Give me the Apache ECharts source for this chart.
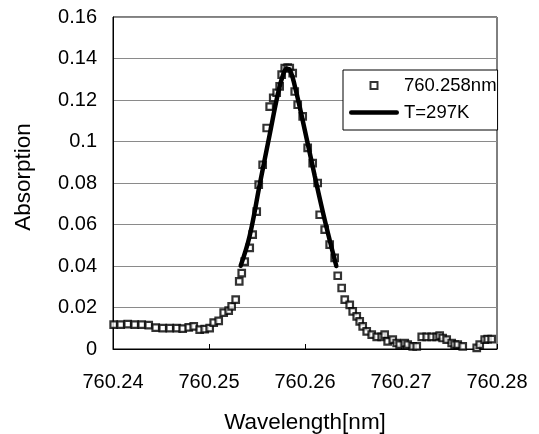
<!DOCTYPE html>
<html>
<head>
<meta charset="utf-8">
<script src="https://cdn.jsdelivr.net/npm/echarts@6/dist/echarts.min.js"></script>
<style>html,body{margin:0;padding:0;background:#fff}#c{width:539px;height:434px}</style>
</head>
<body>
<div id="c"></div>
<script>
// Measured data (wavelength in nm, absorption)
const measX = [760.24007,760.24080,760.24153,760.24226,760.24299,760.24372,760.24445,760.24518,760.24591,760.24664,
760.24726,760.24789,760.24841,760.24903,760.24955,760.25007,760.25049,760.25101,760.25153,760.25205,
760.25236,760.25278,760.25315,760.25341,760.25372,760.25424,760.25455,760.25497,760.25518,760.25559,
760.25601,760.25632,760.25669,760.25705,760.25736,760.25757,760.25789,760.25820,760.25841,760.25872,
760.25893,760.25924,760.25976,760.26028,760.26080,760.26132,760.26153,760.26205,760.26257,760.26309,
760.26341,760.26382,760.26414,760.26466,760.26497,760.26539,760.26570,760.26601,760.26643,760.26695,
760.26747,760.26799,760.26830,760.26861,760.26914,760.26955,760.26986,760.27039,760.27070,760.27122,
760.27164,760.27216,760.27268,760.27320,760.27372,760.27403,760.27434,760.27476,760.27528,760.27559,
760.27591,760.27643,760.27789,760.27820,760.27872,760.27903,760.27945];
const measY = [0.0117,0.0117,0.0120,0.0117,0.0117,0.0115,0.0103,0.0101,0.0101,0.0101,
0.0098,0.0104,0.0109,0.0093,0.0096,0.0101,0.0127,0.0136,0.0175,0.0185,
0.0205,0.0238,0.0326,0.0366,0.0421,0.0487,0.0551,0.0662,0.0792,0.0888,
0.1065,0.1168,0.1210,0.1235,0.1266,0.1322,0.1354,0.1356,0.1354,0.1330,
0.1241,0.1177,0.1121,0.0969,0.0896,0.0800,0.0647,0.0575,0.0503,0.0439,
0.0353,0.0294,0.0238,0.0213,0.0181,0.0157,0.0133,0.0109,0.0085,0.0069,
0.0058,0.0058,0.0069,0.0037,0.0045,0.0029,0.0021,0.0029,0.0021,0.0013,
0.0013,0.0058,0.0058,0.0058,0.0058,0.0064,0.0053,0.0045,0.0029,0.0021,
0.0021,0.0013,0.0005,0.0021,0.0045,0.0048,0.0048];

// Fitted curve T=297K
const fitX = [760.25330,760.25424,760.25528,760.25632,760.25716,760.25768,760.25809,760.25841,760.25893,760.25997,760.26101,760.26205,760.26326];
const fitY = [0.0401,0.0546,0.0792,0.1033,0.1226,0.1317,0.1351,0.1346,0.1269,0.1057,0.0835,0.0623,0.0400];

const seriesNames = ['760.258nm', 'T=297K'];
const xTicks = {min: 760.24, max: 760.28, step: 0.01};
const yTicks = {min: 0, max: 0.16, step: 0.02};

const font = '"Liberation Sans", Arial, sans-serif';
const chart = echarts.init(document.getElementById('c'), null, {renderer: 'canvas'});
chart.setOption({
  animation: false,
  backgroundColor: '#fff',
  grid: {left: 113, right: 42, top: 17, bottom: 85, show: true, borderColor: '#000', borderWidth: 1,
         containLabel: false, outerBoundsMode: 'none'},
  legend: {
    left: 343, top: 70,
    orient: 'vertical',
    backgroundColor: '#fff', borderColor: '#000', borderWidth: 1,
    padding: [6, 1, 8, 5],
    itemGap: 8, itemWidth: 50, itemHeight: 14,
    textStyle: {fontFamily: font, fontSize: 18.5, color: '#000'},
    data: [
      {name: seriesNames[0], icon: 'path://M0,0M50,14M21.5,3.5h7v7h-7z'},
      {name: seriesNames[1], icon: 'path://M0,0M50,14M2,4.8h46a2.2,2.2,0,0,1,0,4.4h-46a2.2,2.2,0,0,1,0,-4.4z', itemStyle: {color: '#000', borderWidth: 0}}
    ]
  },
  xAxis: {
    type: 'value', min: xTicks.min, max: xTicks.max, interval: xTicks.step,
    name: 'Wavelength[nm]', nameLocation: 'middle', nameGap: 62,
    nameTextStyle: {fontFamily: font, fontSize: 22.5, color: '#000'},
    axisLine: {show: true, lineStyle: {color: '#000', width: 1}},
    axisTick: {show: true, inside: true, length: 5, lineStyle: {color: '#000'}},
    axisLabel: {fontFamily: font, fontSize: 20, color: '#000', margin: 23, formatter: v => v.toFixed(2)},
    splitLine: {show: false}
  },
  yAxis: {
    type: 'value', min: yTicks.min, max: yTicks.max, interval: yTicks.step,
    name: 'Absorption', nameLocation: 'middle', nameGap: 78, nameRotate: 90,
    nameTextStyle: {fontFamily: font, fontSize: 22.5, color: '#000', padding: [0, 0, 0, 12]},
    axisLine: {show: true, lineStyle: {color: '#000', width: 1}},
    axisTick: {show: false},
    axisLabel: {fontFamily: font, fontSize: 20, color: '#000', margin: 16, formatter: v => String(Math.round(v * 100) / 100)},
    splitLine: {show: true, lineStyle: {color: '#8a8a8a', width: 1}}
  },
  series: [
    {
      name: seriesNames[0], type: 'scatter', symbol: 'rect', symbolSize: 6.5,
      itemStyle: {color: '#fff', borderColor: '#000', borderWidth: 2.2},
      data: measX.map((x, i) => [x, measY[i]]), z: 2
    },
    {
      name: seriesNames[1], type: 'line', smooth: 0.4, symbol: 'none', showSymbol: false,
      lineStyle: {color: '#000', width: 4.5, cap: 'round'}, itemStyle: {color: '#000'},
      data: fitX.map((x, i) => [x, fitY[i]]), z: 3
    }
  ]
});
</script>
</body>
</html>
